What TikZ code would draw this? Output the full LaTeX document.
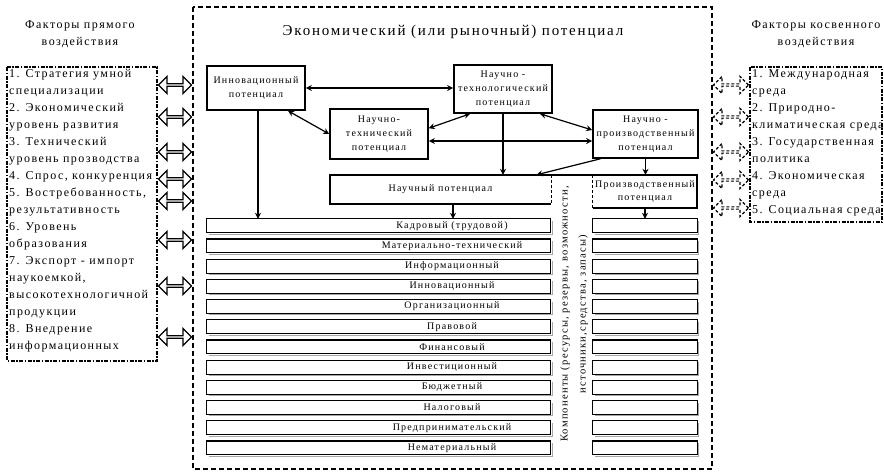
\documentclass[tikz,border=0pt]{standalone}
\usepackage{fontspec}
\setmainfont{Liberation Serif}[LetterSpace=12]
\usetikzlibrary{shapes.arrows,arrows.meta,calc}
\begin{document}
\begin{tikzpicture}[x=1pt,y=-1pt,
  box/.style={draw,line width=1.6pt,inner sep=0pt,align=center,font=\fontsize{10}{14}\selectfont},
  plain/.style={inner sep=0pt,align=center,font=\fontsize{10}{13}\selectfont},
  boxline/.style={line width=1.6pt},
  outerdash/.style={line width=1.5pt,dash pattern=on 5pt off 3pt},
  dashdot/.style={line width=1.5pt,dash pattern=on 4pt off 1.5pt on 1.5pt off 1.5pt},
  listtext/.style={anchor=north west,align=left,inner sep=0pt,font=\fontsize{12}{17}\selectfont},
  head/.style={align=center,inner sep=0pt,font=\fontsize{12}{17}\selectfont},
  dblarr/.style={double arrow,draw,line width=1.4pt,fill=white,minimum height=33pt,minimum width=17pt,double arrow head extend=4pt,inner sep=0pt},
  dbldash/.style={dblarr,line width=1.2pt,dash pattern=on 3pt off 2pt,minimum height=35pt},
  arr/.style={-{Stealth[length=6pt,width=6pt]},line width=1.2pt},
  darr/.style={{Stealth[length=6pt,width=6pt]}-{Stealth[length=6pt,width=6pt]},line width=1.2pt},
  bartext/.style={inner sep=0pt,minimum width=490pt,minimum height=13.5pt,font=\fontsize{10}{12}\selectfont},
  barrect/.style={line width=1.1pt},
  barshadow/.style={line width=1pt,gray!70}
]
\useasboundingbox (0,0) rectangle (884,474);

% outer frames
\draw[outerdash] (193,7) rectangle (712,469);
\draw[dashdot] (7,67) rectangle (157,361);
\draw[dashdot] (750,67) rectangle (882,222);

% headings
\node[head] (lhead) at (80,34) {Факторы прямого\\воздействия};
\node[head] (rhead) at (816,34) {Факторы косвенного\\воздействия};
\node[font=\fontsize{15}{18}\selectfont,inner sep=0pt] (title) at (453,32) {Экономический (или рыночный) потенциал};

% lists
\node[listtext] (ltext) at (9,69) {1. Стратегия умной\\специализации\\2. Экономический\\уровень развития\\3. Технический\\уровень прозводства\\4. Спрос, конкуренция\\5. Востребованность,\\результативность\\6. Уровень\\образования\\7. Экспорт - импорт\\наукоемкой,\\высокотехнологичной\\продукции\\8. Внедрение\\информационных};
\node[listtext] (rtext) at (752,69) {1. Международная\\среда\\2. Природно-\\климатическая среда\\3. Государственная\\политика\\4. Экономическая\\среда\\5. Социальная среда};

% hollow double arrows
\foreach \yy [count=\i] in {85,117,152,179,201,240,286,337}
  \node[dblarr] (la\i) at (175,\yy) {};
\foreach \yy [count=\i] in {85,117,152,180,208}
  \node[dbldash] (ra\i) at (731,\yy) {};

% potential boxes
\node[box,minimum width=98pt,minimum height=44pt] (inn) at (256,88) {Инновационный\\потенциал};
\node[box,minimum width=98pt,minimum height=48pt] (ntl) at (503,89) {Научно -\\технологический\\потенциал};
\node[box,minimum width=98pt,minimum height=50pt] (nt) at (379,134) {Научно-\\технический\\потенциал};
\node[box,minimum width=105pt,minimum height=48pt] (np) at (645.5,134) {Научно -\\производственный\\потенциал};
\node[plain,minimum width=221pt,minimum height=29pt] (nauch) at (440.5,189.5) {Научный потенциал};
\node[plain,minimum width=104pt,minimum height=33pt] (proizv) at (645,191.5) {Производственный\\потенциал};

\draw[boxline] (nauch.north east) -- (nauch.north west) -- (nauch.south west) -- (nauch.south east);
\draw[line width=1.2pt,dash pattern=on 3pt off 2pt] (nauch.north east) -- (nauch.south east);
\draw[boxline] (proizv.north west) -- (proizv.north east) -- (proizv.south east) -- (proizv.south west);
\draw[line width=1.2pt,dash pattern=on 3pt off 2pt] (proizv.north west) -- (proizv.south west);
\draw[boxline] (nauch.north east) -- (proizv.north west);

% component bars
\foreach \lab [count=\i from 0] in {{Кадровый (трудовой)},{Материально-технический},{Информационный},{Инновационный},{Организационный},{Правовой},{Финансовый},{Инвестиционный},{Бюджетный},{Налоговый},{Предпринимательский},{Нематериальный}} {
  \node[bartext] (bar\i) at (452,{225.75+20.2*\i}) {\lab};
  \draw[barshadow] ($(bar\i.south west)+(2,1.4)$) -- ($(bar\i.south west)+(345.4,1.4)$) -- ($(bar\i.north west)+(345.4,2)$);
  \draw[barshadow] ($(bar\i.south west)+(388,1.4)$) -- ($(bar\i.south east)+(1.4,1.4)$) -- ($(bar\i.north east)+(1.4,2)$);
  \draw[barrect] (bar\i.north west) rectangle ($(bar\i.south west)+(344,0)$);
  \draw[barrect] ($(bar\i.north west)+(386,0)$) rectangle (bar\i.south east);
}

\node[rotate=90,align=center,inner sep=0pt,font=\fontsize{10.5}{18}\selectfont] (comp) at (574,314) {Компоненты (ресурсы, резервы, возможности,\\источники,средства, запасы)};

% connectors
\draw[darr] (inn.east) -- (inn.east -| ntl.west);
\draw[darr] ([xshift=32pt]inn.south) -- (nt.west);
\draw[darr] ([yshift=-20pt]nt.north east) -- ([xshift=-33pt]ntl.south);
\draw[darr] ([xshift=37pt]ntl.south) -- ([yshift=4pt]np.west);
\draw[darr] ([yshift=-7pt]nt.east) -- ([yshift=-7pt]nt.east -| np.west);
\draw[arr] (ntl.south) -- (ntl.south |- nauch.north);
\draw[arr] ([xshift=-45pt]np.south) -- ([xshift=96pt]nauch.north);
\draw[arr] (np.south) -- (np.south |- proizv.north);
\draw[arr] ([xshift=2pt]inn.south) -- ([xshift=2pt]inn.south |- bar0.north);
\draw[arr] ([xshift=12.5pt]nauch.south) -- ([xshift=12.5pt]nauch.south |- bar0.north);
\draw[arr] (proizv.south) -- (proizv.south |- bar0.north);
\end{tikzpicture}
\end{document}
